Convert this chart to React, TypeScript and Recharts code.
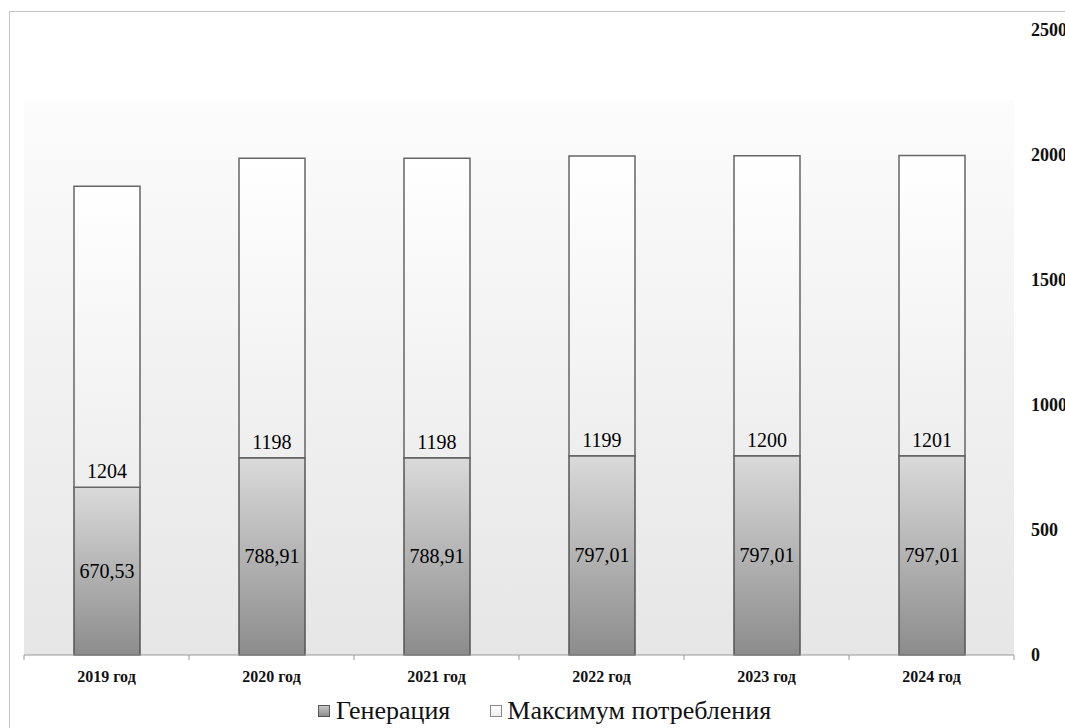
import { BarChart, Bar, XAxis, YAxis, LabelList } from "recharts";

const YEARS = ["2019 год", "2020 год", "2021 год", "2022 год", "2023 год", "2024 год"];
const GENERATION = [670.53, 788.91, 788.91, 797.01, 797.01, 797.01];
const MAX_CONSUMPTION = [1204, 1198, 1198, 1199, 1200, 1201];
const Y_TICKS = [0, 500, 1000, 1500, 2000, 2500];

const SERIF = "'Liberation Serif', 'DejaVu Serif', serif";
const W = 1065;
const H = 728;

const data = YEARS.map((year, i) => ({
  year,
  gen: GENERATION[i],
  max: MAX_CONSUMPTION[i],
}));

const fmt = (v: unknown) => String(v).replace(".", ",");

// category label plus the small tick marks that sit on category boundaries
function XTick(props: any) {
  const { x, y, payload, index } = props;
  const half = payload?.offset ?? 82.5;
  const axisY = y - 8;
  return (
    <g>
      <line x1={x - half} y1={axisY} x2={x - half} y2={axisY + 5} stroke="#999" />
      {index === YEARS.length - 1 && (
        <line x1={x + half} y1={axisY} x2={x + half} y2={axisY + 5} stroke="#999" />
      )}
      <text x={x} y={axisY + 27} textAnchor="middle" fontFamily={SERIF} fontSize={16}
        fontWeight="bold" fill="#111">
        {payload.value}
      </text>
    </g>
  );
}

export default function App() {
  return (
    <div style={{ position: "absolute", left: 0, top: 0, width: W, height: H, overflow: "hidden", background: "#fff" }}>
      <div style={{ position: "absolute", left: 9, top: 11, width: 1200, height: 900, border: "1px solid #c4c4c4" }} />
      {/* plot-area backdrop */}
      <div style={{
        position: "absolute", left: 24, top: 100, width: 990, height: 555,
        background: "linear-gradient(to bottom, #fcfcfc 0%, #f1f1f1 50%, #e6e6e6 100%)",
      }} />
      <div style={{ position: "absolute", left: 0, top: 0 }}>
        <BarChart width={W} height={H} data={data} barSize={66}
          margin={{ top: 30, right: 11, bottom: 43, left: 24 }}>
          <defs>
            <linearGradient id="gen-fill" x1="0" y1="0" x2="0" y2="1">
              <stop offset="0%" stopColor="#dadada" />
              <stop offset="100%" stopColor="#8c8c8c" />
            </linearGradient>
            <linearGradient id="max-fill" x1="0" y1="0" x2="0" y2="1">
              <stop offset="0%" stopColor="#ffffff" />
              <stop offset="100%" stopColor="#eeeeee" />
            </linearGradient>
          </defs>
          <XAxis dataKey="year" height={30} axisLine={{ stroke: "#999" }} tickLine={false}
            tick={<XTick />} interval={0} />
          <YAxis orientation="right" width={40} domain={[0, 2500]} ticks={Y_TICKS}
            axisLine={false} tickLine={false} tickMargin={11}
            tick={{ fontFamily: SERIF, fontSize: 18, fontWeight: "bold", fill: "#111" }} />
          <Bar dataKey="gen" stackId="a" fill="url(#gen-fill)" stroke="#555" strokeWidth={1.5}
            isAnimationActive={false}>
            <LabelList dataKey="gen" position="center" formatter={fmt}
              style={{ fontFamily: SERIF, fontSize: 20, fill: "#000" }} />
          </Bar>
          <Bar dataKey="max" stackId="a" fill="url(#max-fill)" stroke="#666" strokeWidth={1.5}
            isAnimationActive={false}>
            <LabelList dataKey="max" position="insideBottom" offset={9} formatter={fmt}
              style={{ fontFamily: SERIF, fontSize: 20, fill: "#000" }} />
          </Bar>
        </BarChart>
      </div>
      {/* legend */}
      <div style={{
        position: "absolute", left: 0, top: 698, width: W, display: "flex", justifyContent: "center",
        fontFamily: SERIF, fontSize: 26, lineHeight: "26px", color: "#111", paddingLeft: 24, boxSizing: "border-box",
      }}>
        <span style={{ display: "flex", alignItems: "center", marginRight: 40 }}>
          <span style={{ width: 10, height: 10, border: "1px solid #555", marginRight: 6,
            background: "linear-gradient(to bottom, #c8c8c8, #8c8c8c)" }} />
          Генерация
        </span>
        <span style={{ display: "flex", alignItems: "center" }}>
          <span style={{ width: 10, height: 10, border: "1px solid #888", marginRight: 5,
            background: "linear-gradient(to bottom, #ffffff, #eeeeee)" }} />
          Максимум потребления
        </span>
      </div>
    </div>
  );
}
